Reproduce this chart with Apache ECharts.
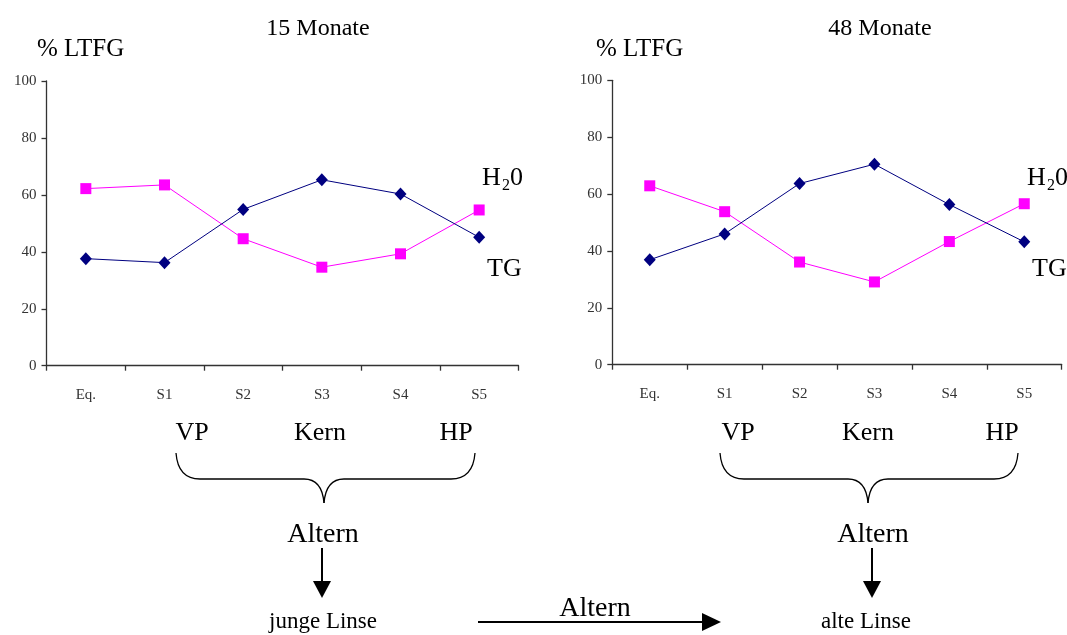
<!DOCTYPE html>
<html><head><meta charset="utf-8">
<script src="https://cdn.jsdelivr.net/npm/echarts@6/dist/echarts.min.js"></script>
<style>html,body{margin:0;padding:0;background:#fff}#c{width:1067px;height:635px}</style>
</head><body><div id="c"></div>
<script>
const categories = ['Eq.', 'S1', 'S2', 'S3', 'S4', 'S5'];
const yTicks = [0, 20, 40, 60, 80, 100];
const titles = ['15 Monate', '48 Monate'];
const h2o15 = [62.2, 63.5, 44.6, 34.6, 39.3, 54.7];
const tg15  = [37.6, 36.2, 54.9, 65.3, 60.3, 45.1];
const h2o48 = [62.9, 53.8, 36.1, 29.1, 43.3, 56.6];
const tg48  = [36.9, 46.0, 63.7, 70.5, 56.3, 43.2];

const serif = '"Liberation Serif", "DejaVu Serif", serif';
const chart = echarts.init(document.getElementById('c'));

function xAx(i){return {type:'category', gridIndex:i, data:categories, boundaryGap:true,
  axisLine:{lineStyle:{color:'#333', width:1.3}}, axisTick:{show:true, length:5, alignWithLabel:false, lineStyle:{color:'#333', width:1.3}},
  axisLabel:{fontFamily:serif, fontSize:15, color:'#333', margin:22}, splitLine:{show:false}};}
function yAx(i){return {type:'value', gridIndex:i, min:yTicks[0], max:yTicks[yTicks.length-1], interval:20,
  axisLine:{show:true, lineStyle:{color:'#333', width:1.3}}, axisTick:{show:true, length:5, lineStyle:{color:'#333', width:1.3}},
  axisLabel:{fontFamily:serif, fontSize:15, color:'#333', margin:10}, splitLine:{show:false}};}
function ser(name, data, i, color, symbol){return {name, type:'line', xAxisIndex:i, yAxisIndex:i, data,
  symbol, symbolSize: symbol==='rect'?11:[12,13], lineStyle:{color, width:1}, itemStyle:{color}, animation:false};}

function T(x, y, text, size, align){return {type:'text', x, y, style:{text, fontFamily:serif, fontSize:size, fill:'#000', textAlign:align||'left'}};}

const bst = {fill:null, stroke:'#000', lineWidth:1.3};
function brace(x1, x2, xm, yTop, yLine, yTip){
  return [
    {type:'bezierCurve', shape:{x1:x1, y1:yTop, cpx1:x1+2, cpy1:yLine, x2:x1+24, y2:yLine}, style:bst},
    {type:'line', shape:{x1:x1+24, y1:yLine, x2:xm-20, y2:yLine}, style:bst},
    {type:'bezierCurve', shape:{x1:xm-20, y1:yLine, cpx1:xm-2, cpy1:yLine, x2:xm, y2:yTip}, style:bst},
    {type:'bezierCurve', shape:{x1:xm, y1:yTip, cpx1:xm+2, cpy1:yLine, x2:xm+20, y2:yLine}, style:bst},
    {type:'line', shape:{x1:xm+20, y1:yLine, x2:x2-24, y2:yLine}, style:bst},
    {type:'bezierCurve', shape:{x1:x2-24, y1:yLine, cpx1:x2-2, cpy1:yLine, x2:x2, y2:yTop}, style:bst}
  ];
}
function downArrow(x, y1, y2){
  return [{type:'line', shape:{x1:x, y1:y1, x2:x, y2:y2-16}, style:{stroke:'#000', lineWidth:2}},
    {type:'polygon', shape:{points:[[x-9,y2-17],[x+9,y2-17],[x,y2]]}, style:{fill:'#000'}}];
}

const graphics = [
  T(318, 17, titles[0], 24, 'center'),
  T(880, 17, titles[1], 24, 'center'),
  T(37, 37, '% LTFG', 25),
  T(596, 37, '% LTFG', 25),
  T(482, 165, 'H', 26), T(502, 178, '2', 16), T(510, 165, '0', 26),
  T(487, 256, 'TG', 26),
  T(1027, 165, 'H', 26), T(1047, 178, '2', 16), T(1055, 165, '0', 26),
  T(1032, 256, 'TG', 26),
  T(192, 420, 'VP', 26, 'center'),
  T(320, 420, 'Kern', 26, 'center'),
  T(456, 420, 'HP', 26, 'center'),
  T(738, 420, 'VP', 26, 'center'),
  T(868, 420, 'Kern', 26, 'center'),
  T(1002, 420, 'HP', 26, 'center'),
  ...brace(176, 475, 324, 453, 479, 503),
  ...brace(720, 1018, 868, 453, 479, 503),
  T(323, 521, 'Altern', 28, 'center'),
  T(873, 521, 'Altern', 28, 'center'),
  ...downArrow(322, 548, 598),
  ...downArrow(872, 548, 598),
  T(323, 610, 'junge Linse', 23, 'center'),
  T(866, 610, 'alte Linse', 23, 'center'),
  T(595, 595, 'Altern', 28, 'center'),
  {type:'line', shape:{x1:478, y1:622, x2:704, y2:622}, style:{stroke:'#000', lineWidth:2.2}},
  {type:'polygon', shape:{points:[[702,613],[702,631],[721,622]]}, style:{fill:'#000'}}
];

chart.setOption({
  animation:false,
  backgroundColor:'#fff',
  grid:[{left:46.5, top:81, width:472, height:284.7}, {left:612.3, top:80.3, width:449.4, height:284.4}],
  xAxis:[xAx(0), xAx(1)],
  yAxis:[yAx(0), yAx(1)],
  series:[
    ser('H2O', h2o15, 0, '#ff00ff', 'rect'),
    ser('TG', tg15, 0, '#000080', 'diamond'),
    ser('H2O', h2o48, 1, '#ff00ff', 'rect'),
    ser('TG', tg48, 1, '#000080', 'diamond')
  ],
  graphic:graphics
});
</script></body></html>
